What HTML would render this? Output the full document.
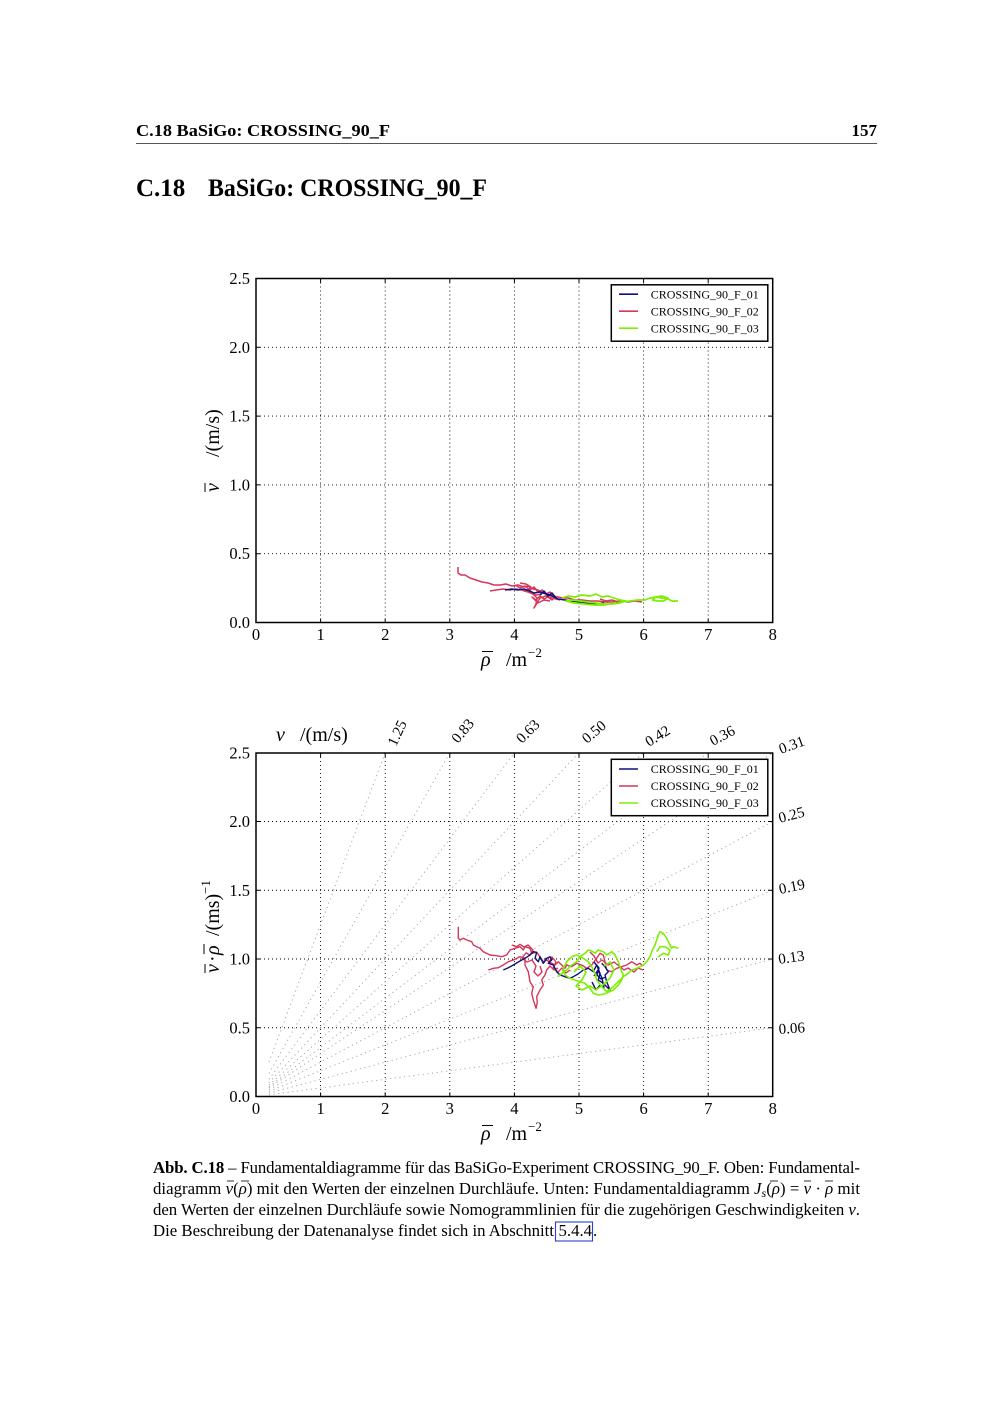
<!DOCTYPE html>
<html><head><meta charset="utf-8"><style>
html,body{margin:0;padding:0;background:#fff;}
svg{display:block;}
text{font-family:"Liberation Serif",serif;fill:#000;}
.tk{font-size:16.5px;}
.lg{font-size:12px;}
.nm{font-size:15px;}
.al{font-size:20px;}
.cap{font-size:16.8px;}
</style></head><body>
<svg width="1000" height="1414" viewBox="0 0 1000 1414" xmlns="http://www.w3.org/2000/svg">
<rect width="1000" height="1414" fill="#fff"/>

<!-- header -->
<text x="136" y="136" font-size="17" font-weight="bold" textLength="254" lengthAdjust="spacingAndGlyphs">C.18 BaSiGo: CROSSING_90_F</text>
<text x="877" y="136" font-size="17" font-weight="bold" text-anchor="end">157</text>
<line x1="136" y1="143.5" x2="877" y2="143.5" stroke="#555" stroke-width="0.9"/>
<text x="136" y="196" font-size="25" font-weight="bold">C.18</text>
<text x="208" y="196" font-size="25" font-weight="bold" textLength="279" lengthAdjust="spacingAndGlyphs">BaSiGo: CROSSING_90_F</text>

<!-- ================= TOP PLOT ================= -->
<g fill="none" stroke="#000" stroke-width="0.9" stroke-dasharray="1 3">
<line x1="320.6" y1="278.5" x2="320.6" y2="622.5"/>
<line x1="385.2" y1="278.5" x2="385.2" y2="622.5"/>
<line x1="449.8" y1="278.5" x2="449.8" y2="622.5"/>
<line x1="514.4" y1="278.5" x2="514.4" y2="622.5"/>
<line x1="579" y1="278.5" x2="579" y2="622.5"/>
<line x1="643.6" y1="278.5" x2="643.6" y2="622.5"/>
<line x1="708.2" y1="278.5" x2="708.2" y2="622.5"/>
<line x1="256" y1="553.7" x2="772.7" y2="553.7"/>
<line x1="256" y1="484.9" x2="772.7" y2="484.9"/>
<line x1="256" y1="416.1" x2="772.7" y2="416.1"/>
<line x1="256" y1="347.3" x2="772.7" y2="347.3"/>
</g>

<!-- top data -->
<g fill="none" stroke-width="1.5" stroke-linejoin="round">
<path stroke="#d6375a" d="M458,567 L458,573 L461,575 L465,575 L470,578 L476,580 L482,582 L488,583 L494,585 L500,585 L506,584 L512,586 L518,585 L524,587 L528,586 L533,589 L538,590 L543,593 L548,594 L553,596 L558,597 L563,598 L568,598 L575,600 L582,600 L590,601 L598,601 L605,602 L612,602 L620,601 L628,602 L635,601 L642,602"/>
<path stroke="#d6375a" d="M490,591 L496,590 L503,589 L510,590 L516,589 L522,590 L528,592 L533,594 L537,598 L536,604 L534,608 L537,603 L540,598 L546,596 L552,598 L560,600"/>
<path stroke="#d6375a" d="M515,585 L520,588 L525,586 L530,590 L534,587 L538,592 L542,590 L546,594 L550,592 L555,597 L552,600 L548,597 L544,599 L540,596 L536,600 L532,597 L538,603 L544,600 L550,601"/>
<path stroke="#d6375a" d="M520,583 L526,584 L531,587 L528,590 L524,591 L530,592 L536,595 L542,594"/>
<path stroke="#10107a" d="M505,590 L512,589 L518,590 L524,589 L530,591 L534,593 L540,592 L546,594 L552,596 L558,599 L565,600 L572,601 L580,602 L588,603 L596,604 L604,603"/>
<path stroke="#10107a" d="M540,595 L544,591 L548,596 L552,593 L556,598"/>
<path stroke="#7cf000" stroke-width="1.7" d="M562,598 L568,596 L575,597 L582,595 L590,596 L596,594 L602,597 L608,596 L614,598 L620,600 L626,601 L620,603 L612,604 L604,604 L596,603 L588,602 L580,601 L572,600 L566,601 L574,603 L584,604 L594,605 L604,605 L614,603 L622,602 L630,601 L638,600 L645,600 L650,598 L656,597 L662,598 L668,599 L672,601 L678,601"/>
<path stroke="#7cf000" stroke-width="1.7" d="M652,600 L656,597 L662,596 L668,598 L664,601 L658,601 L652,600"/>
<path stroke="#d6375a" d="M600,599 L606,601 L612,600 L618,602"/>
</g>

<!-- frame + ticks top -->
<rect x="256" y="278.5" width="516.7" height="344" fill="none" stroke="#000" stroke-width="1.5"/>
<g stroke="#000" stroke-width="1">
<path d="M320.6,622.5v-4 M385.2,622.5v-4 M449.8,622.5v-4 M514.4,622.5v-4 M579,622.5v-4 M643.6,622.5v-4 M708.2,622.5v-4"/>
<path d="M320.6,278.5v4 M385.2,278.5v4 M449.8,278.5v4 M514.4,278.5v4 M579,278.5v4 M643.6,278.5v4 M708.2,278.5v4"/>
<path d="M256,553.7h4 M256,484.9h4 M256,416.1h4 M256,347.3h4"/>
<path d="M772.7,553.7h-4 M772.7,484.9h-4 M772.7,416.1h-4 M772.7,347.3h-4"/>
</g>
<g class="tk" text-anchor="middle">
<text x="256" y="640">0</text><text x="320.6" y="640">1</text><text x="385.2" y="640">2</text><text x="449.8" y="640">3</text><text x="514.4" y="640">4</text><text x="579" y="640">5</text><text x="643.6" y="640">6</text><text x="708.2" y="640">7</text><text x="772.7" y="640">8</text>
</g>
<g class="tk" text-anchor="end">
<text x="250" y="628">0.0</text><text x="250" y="559.2">0.5</text><text x="250" y="490.4">1.0</text><text x="250" y="421.6">1.5</text><text x="250" y="352.8">2.0</text><text x="250" y="284">2.5</text>
</g>
<!-- legend top -->
<rect x="611.3" y="284.8" width="156.5" height="56.4" fill="#fff" stroke="#000" stroke-width="1.5"/>
<line x1="619" y1="294.2" x2="638" y2="294.2" stroke="#10107a" stroke-width="1.6"/>
<line x1="619" y1="311.2" x2="638" y2="311.2" stroke="#d6375a" stroke-width="1.6"/>
<line x1="619" y1="328.2" x2="638" y2="328.2" stroke="#7cf000" stroke-width="1.6"/>
<text class="lg" x="650.7" y="298.4">CROSSING_90_F_01</text>
<text class="lg" x="650.7" y="315.4">CROSSING_90_F_02</text>
<text class="lg" x="650.7" y="332.4">CROSSING_90_F_03</text>
<!-- axis labels top -->
<text class="al" x="481" y="666" font-style="italic">ρ</text>
<line x1="482" y1="651.5" x2="493" y2="651.5" stroke="#000" stroke-width="1"/>
<text class="al" x="506" y="666">/m</text><text x="528" y="657" font-size="13">−2</text>
<g transform="translate(219,450) rotate(-90)">
<text class="al" x="-42" y="0" font-style="italic">v</text>
<line x1="-42" y1="-14" x2="-33" y2="-14" stroke="#000" stroke-width="1"/>
<text class="al" x="-7" y="0">/(m/s)</text>
</g>

<!-- ================= BOTTOM PLOT ================= -->
<g fill="none" stroke="#000" stroke-width="0.9" stroke-dasharray="1 3">
<line x1="320.6" y1="753" x2="320.6" y2="1096.5"/>
<line x1="385.2" y1="753" x2="385.2" y2="1096.5"/>
<line x1="449.8" y1="753" x2="449.8" y2="1096.5"/>
<line x1="514.4" y1="753" x2="514.4" y2="1096.5"/>
<line x1="579" y1="753" x2="579" y2="1096.5"/>
<line x1="643.6" y1="753" x2="643.6" y2="1096.5"/>
<line x1="708.2" y1="753" x2="708.2" y2="1096.5"/>
<line x1="256" y1="1027.75" x2="772.7" y2="1027.75"/>
<line x1="256" y1="959" x2="772.7" y2="959"/>
<line x1="256" y1="890.25" x2="772.7" y2="890.25"/>
<line x1="256" y1="821.5" x2="772.7" y2="821.5"/>
</g>
<!-- nomogram lines -->
<g fill="none" stroke="#a8a8a8" stroke-width="1" stroke-dasharray="1.2 3.5">
<line x1="268.9" y1="1062.1" x2="385.2" y2="752.75"/>
<line x1="268.9" y1="1073.6" x2="449.8" y2="752.75"/>
<line x1="268.9" y1="1079.3" x2="514.4" y2="752.75"/>
<line x1="268.9" y1="1082.75" x2="579" y2="752.75"/>
<line x1="268.9" y1="1085.0" x2="643.6" y2="752.75"/>
<line x1="268.9" y1="1086.7" x2="708.2" y2="752.75"/>
<line x1="268.9" y1="1087.9" x2="772.8" y2="752.75"/>
<line x1="268.9" y1="1089.6" x2="772.8" y2="821.5"/>
<line x1="268.9" y1="1091.3" x2="772.8" y2="890.25"/>
<line x1="268.9" y1="1093.1" x2="772.8" y2="959"/>
<line x1="268.9" y1="1094.8" x2="772.8" y2="1027.75"/>
</g>

<!-- bottom data -->
<g fill="none" stroke-width="1.4" stroke-linejoin="round">
<path stroke="#d6375a" d="M458.3,926.7 L458.3,938.3 L460,940 L463.3,938.3 L466.7,940 L471.7,941.7 L473.3,945 L476.7,946.7 L480,948.3 L483.3,951.7 L490,955 L496.7,955.7 L501.7,956.7 L506.7,955 L510,950 L515,948.3 L520,946.7 L523.3,950 L525,946.7 L530,948.3 L531.7,953.3 L536.7,952.3 L540,956.7 L543.3,961.7 L546.7,960 L551.7,963.3 L555,965 L558.3,961.7 L561.7,965 L565,968.3 L566.7,965 L571.7,966.7 L576.7,963.3 L581.7,965 L586.7,968.3 L591.7,965 L596.7,958.3 L600,953.3 L603.3,955 L605,961.7 L606.7,970 L611.7,971.7 L616.7,968.3 L621.7,966.7 L626.7,965 L631.7,961.7 L636.7,965 L640,963.3 L641.7,965"/>
<path stroke="#d6375a" d="M488.3,970 L493.3,968.3 L498.3,967.7 L503.3,965 L508.3,961.7 L513.3,960 L520,956.7 L525,958.3 L525,965 L528.3,971.7 L530,981.7 L533.3,986.7 L531.7,993.3 L533.3,1000 L535,1005 L536,1008.3 L537.3,1002.3 L536.7,996.7 L540,990 L543.3,985 L541.7,980 L545,975 L546.7,970 L550,966 L554,970 L558,968"/>
<path stroke="#d6375a" d="M511.7,945 L516.7,946.7 L520,944.3 L524,947 L528,945 L533,950 L530,955 L526,953 L522,958 L527,962 L532,960 L536,966 L534,972 L538,976 L542,972 L540,966"/>
<path stroke="#d6375a" d="M545,958 L549,962 L552,957 L556,962 L553,968 L558,972 L562,968 L566,973 L570,970"/>
<path stroke="#d6375a" d="M590,952 L594,956 L598,963 L602,960 L608,965 L614,962 L619,966 L624,970 L628,968 L634,972 L638,968 L643,970"/>
<path stroke="#10107a" d="M503.3,970 L508.3,967.7 L513.3,965 L520,961 L525,958.3 L530,955 L533.3,951.7 L536.7,952.3 L535,958.3 L538.3,961.7 L540,956.7 L543.3,963.3 L546.7,958.3 L550,956.7 L551.7,960 L548.3,963.3 L553.3,965 L556.7,971.7 L560,975 L565,976.7 L570,978.3 L573.3,976.7 L578,974 L583.3,970 L588.3,968.3 L593.3,971.7 L596.7,965 L600,973.3 L598.3,980 L603.3,983.3 L606.7,986.7 L610,990 L606.7,981.7 L605,975 L608.3,971.7 L605,966.7 L601.7,963.3"/>
<path stroke="#10107a" d="M594,976 L598,970 L602,978 L604,988 L600,985 L596,990 L592,982"/>
<path stroke="#7cf000" stroke-width="1.6" d="M558.3,976.7 L561.7,973.3 L566.7,970 L571.7,965 L576.7,961.7 L580,956.7 L585,953.3 L588.3,950 L591.7,951 L595,953.3 L598.3,950 L603.3,951.7 L606.7,955 L611.7,951.7 L615,955 L618.3,961.7 L620,966.7 L621.7,971.7 L623.3,975 L621.7,980 L618.3,985 L613.3,990 L608.3,992.3 L603.3,994.3 L598.3,995 L593.3,993.3 L590,988.3 L585,983.3 L580,981.7 L575,980 L570,978.3 L565,975 L562.7,970 L566.7,961.7 L571.7,956.7 L576.7,955 L583.3,958.3 L588.3,961.7 L591.7,966.7 L595,973.3 L596.7,980 L601.7,986.7 L606.7,991.7 L613.3,986.7 L618.3,981.7 L623.3,976.7 L628.3,973.3 L631.7,970 L636.7,968.3 L640,966.7 L643.3,965 L646.7,961.7 L650,956.7 L651.7,951.7 L653.3,948.3 L655,945 L656.7,940 L658.3,935 L660,931.7 L663.3,933.3 L666.7,938.3 L670,945 L671.7,948.3 L673.3,946.7 L678.3,948.3"/>
<path stroke="#7cf000" stroke-width="1.6" d="M656.7,951.7 L660,946.7 L665,946.7 L670,950 L668.3,955 L663.3,953.3 L658,957"/>
<path stroke="#7cf000" stroke-width="1.6" d="M574,972 L580,966 L586,972 L582,980 L576,986 L582,990 L590,986 L596,990 L604,984 L610,978 L614,970 L610,962 L604,966"/>
<path stroke="#10107a" d="M594,962 L599,968 L597,975 L601,979 L606,977"/>
</g>

<!-- frame + ticks bottom -->
<rect x="256" y="753" width="516.7" height="343.5" fill="none" stroke="#000" stroke-width="1.5"/>
<g stroke="#000" stroke-width="1">
<path d="M320.6,1096.5v-4 M385.2,1096.5v-4 M449.8,1096.5v-4 M514.4,1096.5v-4 M579,1096.5v-4 M643.6,1096.5v-4 M708.2,1096.5v-4"/>
<path d="M320.6,753v4 M385.2,753v4 M449.8,753v4 M514.4,753v4 M579,753v4 M643.6,753v4 M708.2,753v4"/>
<path d="M256,1027.75h4 M256,959h4 M256,890.25h4 M256,821.5h4"/>
<path d="M772.7,1027.75h-4 M772.7,959h-4 M772.7,890.25h-4 M772.7,821.5h-4"/>
</g>
<g class="tk" text-anchor="middle">
<text x="256" y="1114">0</text><text x="320.6" y="1114">1</text><text x="385.2" y="1114">2</text><text x="449.8" y="1114">3</text><text x="514.4" y="1114">4</text><text x="579" y="1114">5</text><text x="643.6" y="1114">6</text><text x="708.2" y="1114">7</text><text x="772.7" y="1114">8</text>
</g>
<g class="tk" text-anchor="end">
<text x="250" y="1102">0.0</text><text x="250" y="1033.25">0.5</text><text x="250" y="964.5">1.0</text><text x="250" y="895.75">1.5</text><text x="250" y="827">2.0</text><text x="250" y="758.5">2.5</text>
</g>
<!-- legend bottom -->
<rect x="611.3" y="759.3" width="156.5" height="56.4" fill="#fff" stroke="#000" stroke-width="1.5"/>
<line x1="619" y1="769" x2="638" y2="769" stroke="#10107a" stroke-width="1.6"/>
<line x1="619" y1="786" x2="638" y2="786" stroke="#d6375a" stroke-width="1.6"/>
<line x1="619" y1="803" x2="638" y2="803" stroke="#7cf000" stroke-width="1.6"/>
<text class="lg" x="650.7" y="773.2">CROSSING_90_F_01</text>
<text class="lg" x="650.7" y="790.2">CROSSING_90_F_02</text>
<text class="lg" x="650.7" y="807.2">CROSSING_90_F_03</text>

<!-- nomogram labels -->
<g class="nm">
<text transform="translate(396,747) rotate(-65)">1.25</text>
<text transform="translate(458,744) rotate(-50)">0.83</text>
<text transform="translate(522,744) rotate(-45)">0.63</text>
<text transform="translate(587,744) rotate(-40)">0.50</text>
<text transform="translate(649,747) rotate(-32)">0.42</text>
<text transform="translate(713,746) rotate(-28)">0.36</text>
<text transform="translate(781,754) rotate(-20)">0.31</text>
<text transform="translate(780,823) rotate(-15)">0.25</text>
<text transform="translate(780,894) rotate(-12)">0.19</text>
<text transform="translate(779,964) rotate(-8)">0.13</text>
<text transform="translate(779,1034) rotate(-4)">0.06</text>
</g>
<!-- top label v /(m/s) -->
<text class="al" x="276" y="741" font-style="italic">v</text>
<text class="al" x="300" y="741">/(m/s)</text>

<!-- x label bottom -->
<text class="al" x="481" y="1140" font-style="italic">ρ</text>
<line x1="482" y1="1125.5" x2="493" y2="1125.5" stroke="#000" stroke-width="1"/>
<text class="al" x="506" y="1140">/m</text><text x="528" y="1131" font-size="13">−2</text>
<!-- y label bottom -->
<g transform="translate(219,925) rotate(-90)">
<text class="al" x="-48" y="0" font-style="italic">v</text>
<line x1="-48" y1="-14" x2="-39" y2="-14" stroke="#000" stroke-width="1"/>
<text class="al" x="-37" y="0">·</text>
<text class="al" x="-30" y="0" font-style="italic">ρ</text>
<line x1="-29" y1="-15" x2="-19" y2="-15" stroke="#000" stroke-width="1"/>
<text class="al" x="-11" y="0">/(ms)</text>
<text x="31" y="-9" font-size="13">−1</text>
</g>

<!-- caption -->
<text class="cap" x="153" y="1173" textLength="707" lengthAdjust="spacing"><tspan font-weight="bold">Abb. C.18</tspan> – Fundamentaldiagramme für das BaSiGo-Experiment CROSSING_90_F. Oben: Fundamental-</text>
<text class="cap" x="153" y="1194" textLength="707" lengthAdjust="spacing">diagramm <tspan font-style="italic">v</tspan>(<tspan font-style="italic">ρ</tspan>) mit den Werten der einzelnen Durchläufe. Unten: Fundamentaldiagramm <tspan font-style="italic">J</tspan><tspan font-style="italic" font-size="12" dy="3">s</tspan><tspan dy="-3">(</tspan><tspan font-style="italic">ρ</tspan>) = <tspan font-style="italic">v</tspan> · <tspan font-style="italic">ρ</tspan> mit</text>
<g stroke="#000" stroke-width="0.8">
<line x1="227" y1="1181" x2="234" y2="1181"/>
<line x1="241" y1="1181" x2="249" y2="1181"/>
<line x1="770" y1="1181" x2="778" y2="1181"/>
<line x1="804" y1="1181" x2="811" y2="1181"/>
<line x1="825" y1="1181" x2="833" y2="1181"/>
</g>
<text class="cap" x="153" y="1215" textLength="707" lengthAdjust="spacing">den Werten der einzelnen Durchläufe sowie Nomogrammlinien für die zugehörigen Geschwindigkeiten <tspan font-style="italic">v</tspan>.</text>
<text class="cap" x="153" y="1236" textLength="401" lengthAdjust="spacing">Die Beschreibung der Datenanalyse findet sich in Abschnitt</text>
<text class="cap" x="558.5" y="1236">5.4.4</text>
<text class="cap" x="593" y="1236">.</text>
<rect x="555.5" y="1222" width="37" height="19" fill="none" stroke="#2a3fd0" stroke-width="1.1"/>
</svg>
</body></html>
